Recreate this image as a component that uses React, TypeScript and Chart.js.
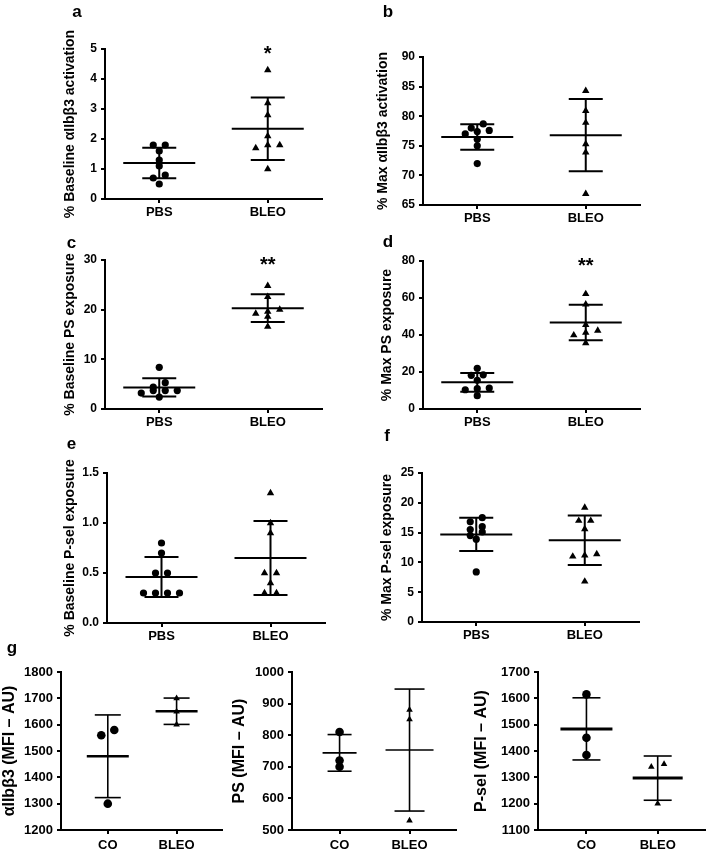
import React, { useEffect, useRef } from "react";
import { Chart, registerables } from "chart.js";

Chart.register(...registerables);

const FONT = "'Liberation Sans', Arial, Helvetica, sans-serif";

// ---------- categories ----------
const catsTop = ["PBS", "BLEO"];
const catsG = ["CO", "BLEO"];

// ---------- panel a: % Baseline αIIbβ3 activation ----------
const aPBS = [1.8, 1.8, 1.6, 1.3, 1.1, 0.8, 0.7, 0.5];
const aBLEO = [4.3, 3.2, 2.8, 2.1, 1.8, 1.8, 1.7, 1.0];
const aMean = [1.2, 2.34];
const aSD = [0.51, 1.04];
const aSig = ["", "*"];

// ---------- panel b: % Max αIIbβ3 activation ----------
const bPBS = [78.7, 78.0, 77.6, 77.4, 77.0, 76.1, 75.0, 72.0];
const bBLEO = [84.3, 80.9, 78.9, 75.3, 73.9, 66.9];
const bMean = [76.5, 76.8];
const bSD = [2.15, 6.1];

// ---------- panel c: % Baseline PS exposure ----------
const cPBS = [8.4, 5.3, 4.4, 3.7, 3.7, 3.7, 3.2, 2.4];
const cBLEO = [24.8, 22.6, 20.0, 19.6, 19.2, 18.6, 16.6];
const cMean = [4.35, 20.3];
const cSD = [1.85, 2.8];
const cSig = ["", "**"];

// ---------- panel d: % Max PS exposure ----------
const dPBS = [22.0, 18.5, 18.2, 15.5, 11.3, 11.0, 10.4, 7.2];
const dBLEO = [62.2, 56.6, 45.5, 42.4, 41.3, 39.9, 35.6];
const dMean = [14.4, 46.7];
const dSD = [5.1, 9.6];
const dSig = ["", "**"];

// ---------- panel e: % Baseline P-sel exposure ----------
const ePBS = [0.8, 0.7, 0.5, 0.5, 0.3, 0.3, 0.3, 0.3];
const eBLEO = [1.3, 1.0, 0.9, 0.5, 0.5, 0.4, 0.3, 0.3];
const eMean = [0.46, 0.65];
const eSD = [0.2, 0.37];

// ---------- panel f: % Max P-sel exposure ----------
const fPBS = [17.5, 16.8, 16.0, 15.5, 15.1, 14.5, 13.9, 8.4];
const fBLEO = [19.2, 17.0, 17.0, 15.6, 11.4, 11.2, 11.0, 6.8];
const fMean = [14.7, 13.7];
const fSD = [2.8, 4.15];

// ---------- panel g ----------
const g1CO = [1580, 1560, 1300];
const g1BLEO = [1700, 1650, 1600];
const g1Mean = [1480, 1651];
const g1SD = [157, 50];

const g2CO = [810, 720, 700];
const g2BLEO = [880, 850, 530];
const g2Mean = [744, 753];
const g2SD = [58, 193];

const g3CO = [1615, 1450, 1385];
const g3BLEO = [1350, 1340, 1200];
const g3Mean = [1484, 1297];
const g3SD = [118, 84];

// ---------- helpers ----------
function jitter(vals: number[], pxPerUnitY: number, unitsPerPxX: number, d: number, thr: number) {
  const idx = vals.map((_, i) => i).sort((a, b) => vals[b] - vals[a]);
  const off = new Array(vals.length).fill(0);
  let bin: number[] = [];
  const flush = () => {
    const s = [...bin].sort((a, b) => vals[a] - vals[b]);
    const n = s.length;
    s.forEach((k, j) => {
      off[k] = (j - (n - 1) / 2) * d * unitsPerPxX;
    });
  };
  for (const k of idx) {
    if (bin.length && (vals[bin[0]] - vals[k]) * pxPerUnitY > thr) {
      flush();
      bin = [];
    }
    bin.push(k);
  }
  if (bin.length) flush();
  return off;
}

function seg(ctx: CanvasRenderingContext2D, x1: number, y1: number, x2: number, y2: number) {
  ctx.beginPath();
  ctx.moveTo(x1, y1);
  ctx.lineTo(x2, y2);
  ctx.stroke();
}

type PanelDef = any;

const topStyle = {
  titleSize: 14,
  tickSize: 12,
  catSize: 13,
  radius: [3.6, 4.3],
  spacing: 12,
  binPx: 5,
  meanHalf: [36, 36],
  capHalf: [17, 17],
  barW: 2,
  meanW: 2,
  labelPad: 2,
  xMin: -0.5,
  xMax: 1.5,
};

const gStyle = {
  titleSize: 16,
  tickSize: 13,
  catSize: 13,
  radius: [4.3, 3.8],
  spacing: 13,
  binPx: 6,
  barW: 1.6,
  meanW: 2,
  labelPad: 4,
  xMin: -0.68,
  xMax: 1.66,
};

const panels: PanelDef[] = [
  {
    ...topStyle,
    box: { x: 0, y: 0, w: 350, h: 228 },
    area: { L: 105, T: 49, R: 322, B: 199 },
    titleX: 70,
    title: "% Baseline αIIbβ3 activation",
    letter: "a",
    letterPos: [77, 16.5],
    cats: catsTop,
    series: [aPBS, aBLEO],
    means: aMean,
    sds: aSD,
    sig: aSig,
    yMin: 0, yMax: 5, yStep: 1,
    yFmt: (v: number) => String(v),
  },
  {
    ...topStyle,
    box: { x: 350, y: 0, w: 359, h: 228 },
    area: { L: 423, T: 57, R: 640, B: 205 },
    titleX: 383,
    title: "% Max αIIbβ3 activation",
    letter: "b",
    letterPos: [388, 16.5],
    cats: catsTop,
    series: [bPBS, bBLEO],
    means: bMean,
    sds: bSD,
    yMin: 65, yMax: 90, yStep: 5,
    yFmt: (v: number) => String(v),
  },
  {
    ...topStyle,
    box: { x: 0, y: 228, w: 350, h: 200 },
    area: { L: 105, T: 260, R: 322, B: 409 },
    titleX: 70,
    title: "% Baseline PS exposure",
    letter: "c",
    letterPos: [71.5, 248],
    cats: catsTop,
    series: [cPBS, cBLEO],
    means: cMean,
    sds: cSD,
    sig: cSig,
    yMin: 0, yMax: 30, yStep: 10,
    yFmt: (v: number) => String(v),
  },
  {
    ...topStyle,
    box: { x: 350, y: 228, w: 359, h: 200 },
    area: { L: 423, T: 261, R: 640, B: 409 },
    titleX: 387,
    title: "% Max PS exposure",
    letter: "d",
    letterPos: [388, 246.5],
    cats: catsTop,
    series: [dPBS, dBLEO],
    means: dMean,
    sds: dSD,
    sig: dSig,
    yMin: 0, yMax: 80, yStep: 20,
    yFmt: (v: number) => String(v),
  },
  {
    ...topStyle,
    box: { x: 0, y: 428, w: 350, h: 212 },
    area: { L: 107, T: 473, R: 325, B: 623 },
    titleX: 70,
    title: "% Baseline P-sel exposure",
    letter: "e",
    letterPos: [71.5, 448.5],
    cats: catsTop,
    series: [ePBS, eBLEO],
    means: eMean,
    sds: eSD,
    yMin: 0, yMax: 1.5, yStep: 0.5,
    yFmt: (v: number) => v.toFixed(1),
  },
  {
    ...topStyle,
    box: { x: 350, y: 428, w: 359, h: 212 },
    area: { L: 422, T: 473, R: 639, B: 622 },
    titleX: 387,
    title: "% Max P-sel exposure",
    letter: "f",
    letterPos: [387, 441],
    cats: catsTop,
    series: [fPBS, fBLEO],
    means: fMean,
    sds: fSD,
    yMin: 0, yMax: 25, yStep: 5,
    yFmt: (v: number) => String(v),
  },
  {
    ...gStyle,
    box: { x: 0, y: 640, w: 230, h: 210 },
    area: { L: 61, T: 672, R: 222, B: 830 },
    titleX: 10,
    title: "αIIbβ3 (MFI – AU)",
    letter: "g",
    letterPos: [12, 652.5],
    cats: catsG,
    series: [g1CO, g1BLEO],
    means: g1Mean,
    sds: g1SD,
    meanHalf: [21, 21],
    capHalf: [13, 13],
    meanW: 2.4,
    yMin: 1200, yMax: 1800, yStep: 100,
    yFmt: (v: number) => String(v),
  },
  {
    ...gStyle,
    box: { x: 230, y: 640, w: 230, h: 210 },
    area: { L: 292, T: 672, R: 457, B: 830 },
    titleX: 240,
    title: "PS (MFI – AU)",
    cats: catsG,
    series: [g2CO, g2BLEO],
    means: g2Mean,
    sds: g2SD,
    meanHalf: [17, 24],
    capHalf: [12, 15],
    meanW: 1.6,
    yMin: 500, yMax: 1000, yStep: 100,
    yFmt: (v: number) => String(v),
  },
  {
    ...gStyle,
    box: { x: 460, y: 640, w: 249, h: 210 },
    area: { L: 538, T: 672, R: 708, B: 830 },
    titleX: 482,
    title: "P-sel (MFI – AU)",
    cats: catsG,
    series: [g3CO, g3BLEO],
    means: g3Mean,
    sds: g3SD,
    meanHalf: [26, 25],
    capHalf: [14, 14],
    meanW: 3,
    yMin: 1100, yMax: 1700, yStep: 100,
    yFmt: (v: number) => String(v),
  },
];

function Panel({ p }: { p: PanelDef }) {
  const ref = useRef<HTMLCanvasElement>(null);
  useEffect(() => {
    const cv = ref.current!;
    const { box, area } = p;
    const padLeft = Math.max(0, p.titleX - box.x - 0.6 * p.titleSize);
    const yW = area.L - box.x - padLeft;
    const padTop = area.T - box.y;
    const padRight = box.x + box.w - area.R;
    const xH = box.y + box.h - area.B;
    const pxPerUnitY = (area.B - area.T) / (p.yMax - p.yMin);
    const unitsPerPxX = (p.xMax - p.xMin) / (area.R - area.L);

    const datasets = p.series.map((vals: number[], gi: number) => {
      const off = jitter(vals, pxPerUnitY, unitsPerPxX, p.spacing, p.binPx);
      return {
        data: vals.map((v, k) => ({ x: gi + off[k], y: v })),
        pointStyle: gi === 0 ? "circle" : "triangle",
        pointRadius: p.radius[gi],
        pointHoverRadius: p.radius[gi],
        backgroundColor: "#000",
        borderColor: "#000",
        borderWidth: 0,
        pointBorderWidth: 0,
        showLine: false,
      };
    });

    const axisGrid = {
      drawOnChartArea: false,
      drawTicks: true,
      tickLength: 4,
      lineWidth: 2,
      color: "#000",
    };
    const axisBorder = { display: true, color: "#000", width: 2 };

    const overlay = {
      id: "overlay",
      beforeDatasetsDraw(chart: any) {
        const ctx = chart.ctx as CanvasRenderingContext2D;
        const xs = chart.scales.x;
        const ys = chart.scales.y;
        ctx.save();
        ctx.strokeStyle = "#000";
        ctx.lineCap = "butt";
        p.means.forEach((m: number, i: number) => {
          const cx = xs.getPixelForValue(i);
          const yt = ys.getPixelForValue(m + p.sds[i]);
          const yb = ys.getPixelForValue(m - p.sds[i]);
          const ym = ys.getPixelForValue(m);
          ctx.lineWidth = p.barW;
          seg(ctx, cx, yt, cx, yb);
          seg(ctx, cx - p.capHalf[i], yt, cx + p.capHalf[i], yt);
          seg(ctx, cx - p.capHalf[i], yb, cx + p.capHalf[i], yb);
          ctx.lineWidth = p.meanW;
          seg(ctx, cx - p.meanHalf[i], ym, cx + p.meanHalf[i], ym);
        });
        ctx.restore();
      },
      afterDraw(chart: any) {
        const ctx = chart.ctx as CanvasRenderingContext2D;
        const xs = chart.scales.x;
        const ys = chart.scales.y;
        ctx.save();
        ctx.fillStyle = "#000";
        ctx.textAlign = "center";
        ctx.textBaseline = "alphabetic";
        if (p.sig) {
          ctx.font = `bold 20px ${FONT}`;
          p.sig.forEach((s: string, i: number) => {
            if (!s) return;
            ctx.fillText(s, xs.getPixelForValue(i), ys.getPixelForValue(p.yMax) + 11);
          });
        }
        if (p.letter) {
          ctx.font = `bold 17px ${FONT}`;
          ctx.fillText(p.letter, p.letterPos[0] - box.x, p.letterPos[1] - box.y);
        }
        ctx.restore();
      },
    };

    const chart = new Chart(cv, {
      type: "scatter",
      data: { datasets },
      options: {
        animation: false,
        responsive: false,
        maintainAspectRatio: false,
        events: [],
        layout: { padding: { left: padLeft, top: padTop, right: padRight, bottom: 0 } },
        plugins: {
          legend: { display: false },
          tooltip: { enabled: false },
          title: { display: false },
        },
        scales: {
          x: {
            type: "linear",
            min: p.xMin,
            max: p.xMax,
            afterBuildTicks: (s: any) => {
              s.ticks = p.cats.map((_: string, i: number) => ({ value: i }));
            },
            afterFit: (s: any) => {
              s.height = xH;
            },
            ticks: {
              autoSkip: false,
              maxRotation: 0,
              minRotation: 0,
              padding: p.labelPad,
              color: "#000",
              font: { family: FONT, size: p.catSize, weight: "bold" },
              callback: (v: any) => p.cats[Math.round(Number(v))] ?? "",
            },
            grid: axisGrid,
            border: axisBorder,
          },
          y: {
            type: "linear",
            min: p.yMin,
            max: p.yMax,
            afterFit: (s: any) => {
              s.width = yW;
            },
            ticks: {
              stepSize: p.yStep,
              padding: 4,
              color: "#000",
              font: { family: FONT, size: p.tickSize, weight: "bold" },
              callback: (v: any) => p.yFmt(Number(v)),
            },
            grid: axisGrid,
            border: axisBorder,
            title: {
              display: true,
              text: p.title,
              color: "#000",
              padding: 0,
              font: { family: FONT, size: p.titleSize, weight: "bold" },
            },
          },
        },
      } as any,
      plugins: [overlay as any],
    });
    return () => chart.destroy();
  }, []);
  return (
    <canvas
      ref={ref}
      width={p.box.w}
      height={p.box.h}
      style={{
        position: "absolute",
        left: p.box.x,
        top: p.box.y,
        width: p.box.w,
        height: p.box.h,
      }}
    />
  );
}

export default function App() {
  return (
    <div
      style={{
        position: "absolute",
        left: 0,
        top: 0,
        width: 709,
        height: 850,
        background: "#fff",
        overflow: "hidden",
      }}
    >
      {panels.map((p, i) => (
        <Panel key={i} p={p} />
      ))}
    </div>
  );
}
